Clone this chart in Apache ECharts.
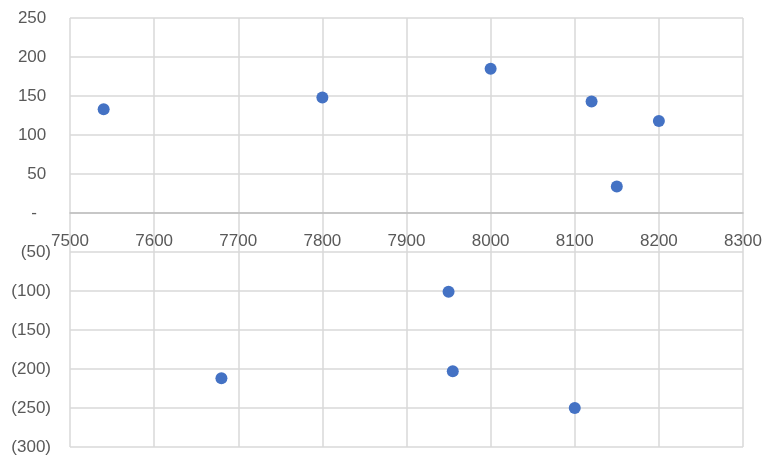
<!DOCTYPE html>
<html>
<head>
<meta charset="utf-8">
<script src="https://cdn.jsdelivr.net/npm/echarts@6/dist/echarts.min.js"></script>
<style>
html,body{margin:0;padding:0;background:#fff;}
#c{width:776px;height:467px;}
</style>
</head>
<body>
<div id="c"></div>
<script>
const xValues = [7540, 7800, 8000, 8120, 8200, 8150, 7950, 7680, 7955, 8100];
const yValues = [133, 148, 185, 143, 118, 34, -101, -212, -203, -250];
const xTicks = {min: 7500, max: 8300, interval: 100};
const yTicks = {min: -300, max: 250, interval: 50};

const W = 776, H = 467;
const gridL = 70, gridR = 33, gridT = 18, gridB = 20;
const gridH = H - gridT - gridB;
const zeroOffset = -((0 - yTicks.min) / (yTicks.max - yTicks.min)) * gridH;

const chart = echarts.init(document.getElementById('c'));
const pts = xValues.map((x, i) => [x, yValues[i]]);
const fmtY = v => {
  if (v === 0) return '-\u2007 ';
  if (v < 0) return '(' + Math.abs(v) + ')';
  return v + ' ';
};
chart.setOption({
  animation: false,
  grid: {left: gridL, right: gridR, top: gridT, bottom: gridB, containLabel: false, outerBoundsMode: 'none'},
  xAxis: {
    type: 'value', min: xTicks.min, max: xTicks.max, interval: xTicks.interval,
    position: 'bottom', offset: zeroOffset,
    axisLine: {show: true, onZero: false, lineStyle: {color: '#bfbfbf', width: 1.5}},
    axisTick: {show: false},
    axisLabel: {color: '#595959', fontSize: 17, fontFamily: 'Liberation Sans', margin: 20, verticalAlign: 'top', showMaxLabel: true, showMinLabel: true, formatter: v => String(v)},
    splitLine: {show: true, lineStyle: {color: '#d9d9d9', width: 1.5}}
  },
  yAxis: {
    type: 'value', min: yTicks.min, max: yTicks.max, interval: yTicks.interval,
    axisLine: {show: false},
    axisTick: {show: false},
    axisLabel: {color: '#595959', fontSize: 17, fontFamily: 'Liberation Sans', margin: 19, formatter: fmtY},
    splitLine: {show: true, lineStyle: {color: '#d9d9d9', width: 1.5}}
  },
  series: [{
    type: 'scatter',
    data: pts,
    symbol: 'circle',
    symbolSize: 12,
    itemStyle: {color: '#4472C4', opacity: 1}
  }]
});
</script>
</body>
</html>
